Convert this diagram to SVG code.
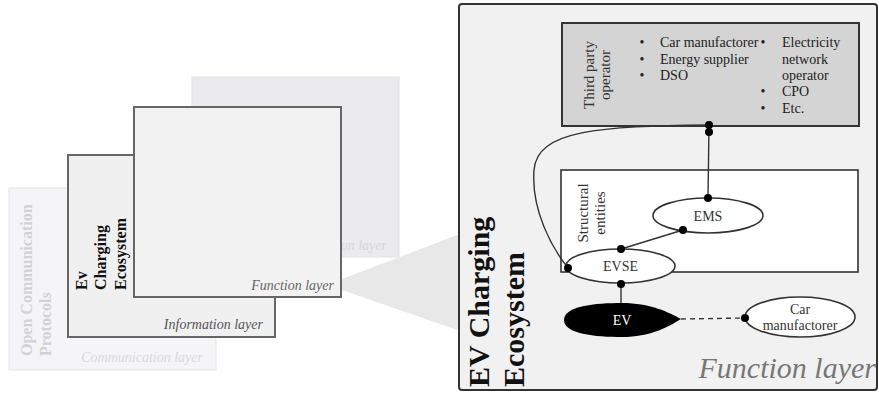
<svg xmlns="http://www.w3.org/2000/svg" width="879" height="401" viewBox="0 0 879 401">
<style>
.serif{font-family:"Liberation Serif","Times New Roman",serif}
.layer{stroke-width:2}
.lbl{font-family:"Liberation Serif",serif;font-style:italic;font-size:14px;text-anchor:end}
.vb{font-family:"Liberation Serif",serif;font-weight:bold;font-size:16px}
.t14{font-family:"Liberation Serif",serif;font-size:14px;fill:#222}
.node{fill:#fff;stroke:#333;stroke-width:1.6}
.ntext{font-family:"Liberation Serif",serif;font-size:14px;fill:#333;text-anchor:middle}
.con{fill:none;stroke:#333;stroke-width:1.4}
.dot{fill:#000}
</style>
<rect width="879" height="401" fill="#fff"/>
<g id="layers">
<rect x="192" y="77" width="207" height="180" fill="#ebebee" stroke="#e2e2e6" stroke-width="1"/>
<text class="lbl" x="387" y="250" fill="#d6d6da">on layer</text>
<rect x="9" y="188" width="207" height="182" fill="#f5f5f7" stroke="#e4e4e8" stroke-width="1"/>
<text class="lbl" x="203" y="362" fill="#d8d8dc">Communication layer</text>
<text class="vb" fill="#d2d2d6" transform="translate(32,356) rotate(-90)">Open Communication</text>
<text class="vb" fill="#d2d2d6" transform="translate(51,356) rotate(-90)">Protocols</text>
<rect x="68" y="155" width="207" height="182" fill="#f0f0f0" stroke="#666" class="layer"/>
<text class="lbl" x="263" y="329" fill="#555">Information layer</text>
<text class="vb" fill="#111" transform="translate(87,290) rotate(-90)">Ev</text>
<text class="vb" fill="#111" transform="translate(106,290) rotate(-90)">Charging</text>
<text class="vb" fill="#111" transform="translate(126,290) rotate(-90)">Ecosystem</text>
<rect x="134" y="107" width="207" height="190" fill="#f2f2f2" stroke="#666" class="layer"/>
<text class="lbl" x="334" y="290" fill="#666">Function layer</text>
<polygon points="342,279 460,234 460,331 342,290" fill="#e8e8e8"/>
</g>
<g id="function-panel">
<rect x="459" y="4" width="418" height="386" rx="3" fill="#f1f1f1" stroke="#333" stroke-width="2"/>
<text class="serif" font-weight="bold" font-size="30" fill="#111" transform="translate(489,387) rotate(-90)">EV Charging</text>
<text class="serif" font-weight="bold" font-size="30" fill="#111" transform="translate(524,387) rotate(-90)">Ecosystem</text>
<text class="serif" font-style="italic" font-size="30" fill="#777" text-anchor="end" x="876" y="378">Function layer</text>
</g>
<g id="third-party">
<rect x="562" y="23" width="297" height="103" fill="#d4d4d4" stroke="#333" stroke-width="2"/>
<text class="serif" font-size="15" fill="#333" text-anchor="middle" transform="translate(594,75) rotate(-90)">Third party</text>
<text class="serif" font-size="15" fill="#333" text-anchor="middle" transform="translate(610,75) rotate(-90)">operator</text>
<g class="t14">
<text x="642" y="47" text-anchor="middle">•</text><text x="660" y="47">Car manufactorer</text>
<text x="642" y="63.5" text-anchor="middle">•</text><text x="660" y="63.5">Energy supplier</text>
<text x="642" y="80" text-anchor="middle">•</text><text x="660" y="80">DSO</text>
<text x="763" y="47" text-anchor="middle">•</text><text x="782" y="47">Electricity</text>
<text x="782" y="63.5">network</text>
<text x="782" y="80">operator</text>
<text x="763" y="96" text-anchor="middle">•</text><text x="782" y="96">CPO</text>
<text x="763" y="112.5" text-anchor="middle">•</text><text x="782" y="112.5">Etc.</text>
</g>
</g>
<g id="structural-entities">
<rect x="561" y="170" width="297" height="102" fill="#fff" stroke="#333" stroke-width="1.6"/>
<text class="serif" font-size="15" fill="#333" text-anchor="middle" transform="translate(588,213) rotate(-90)">Structural</text>
<text class="serif" font-size="15" fill="#333" text-anchor="middle" transform="translate(605,213) rotate(-90)">entities</text>
</g>
<g id="connectors">
<path class="con" d="M709,125 C600,126 537,130 534,170 C531,210 552,248 568,268"/>
<line class="con" x1="709" y1="125" x2="708" y2="198"/>
<line class="con" x1="683" y1="230" x2="621" y2="249"/>
<line class="con" x1="621" y1="284" x2="621" y2="304"/>
<line class="con" x1="681" y1="319" x2="745" y2="318" stroke-dasharray="5,4"/>
</g>
<g id="ems">
<ellipse class="node" cx="708" cy="215.5" rx="55" ry="17.5"/>
<text class="ntext" x="708" y="221">EMS</text>
</g>
<g id="evse">
<ellipse class="node" cx="620.5" cy="266" rx="54.5" ry="17"/>
<text class="ntext" x="620.5" y="271">EVSE</text>
</g>
<g id="ev">
<path d="M564,320 C564,306 595,303 622,303 C650,303 668,312 681,319 C668,327 650,337 622,337 C595,337 564,334 564,320 Z" fill="#000"/>
<text class="ntext" x="622" y="325" style="fill:#fff">EV</text>
</g>
<g id="car-manufactorer">
<ellipse class="node" cx="800" cy="317" rx="55" ry="20"/>
<text class="ntext" x="800" y="314">Car</text>
<text class="ntext" x="800" y="330">manufactorer</text>
</g>
<g id="ports">
<circle class="dot" cx="709" cy="125" r="4"/>
<circle class="dot" cx="709" cy="132" r="4"/>
<circle class="dot" cx="708" cy="198" r="4"/>
<circle class="dot" cx="683" cy="230" r="4"/>
<circle class="dot" cx="621" cy="249" r="4"/>
<circle class="dot" cx="568" cy="268" r="4"/>
<circle class="dot" cx="621" cy="284" r="4"/>
<circle class="dot" cx="745" cy="318" r="4"/>
</g>
</svg>
